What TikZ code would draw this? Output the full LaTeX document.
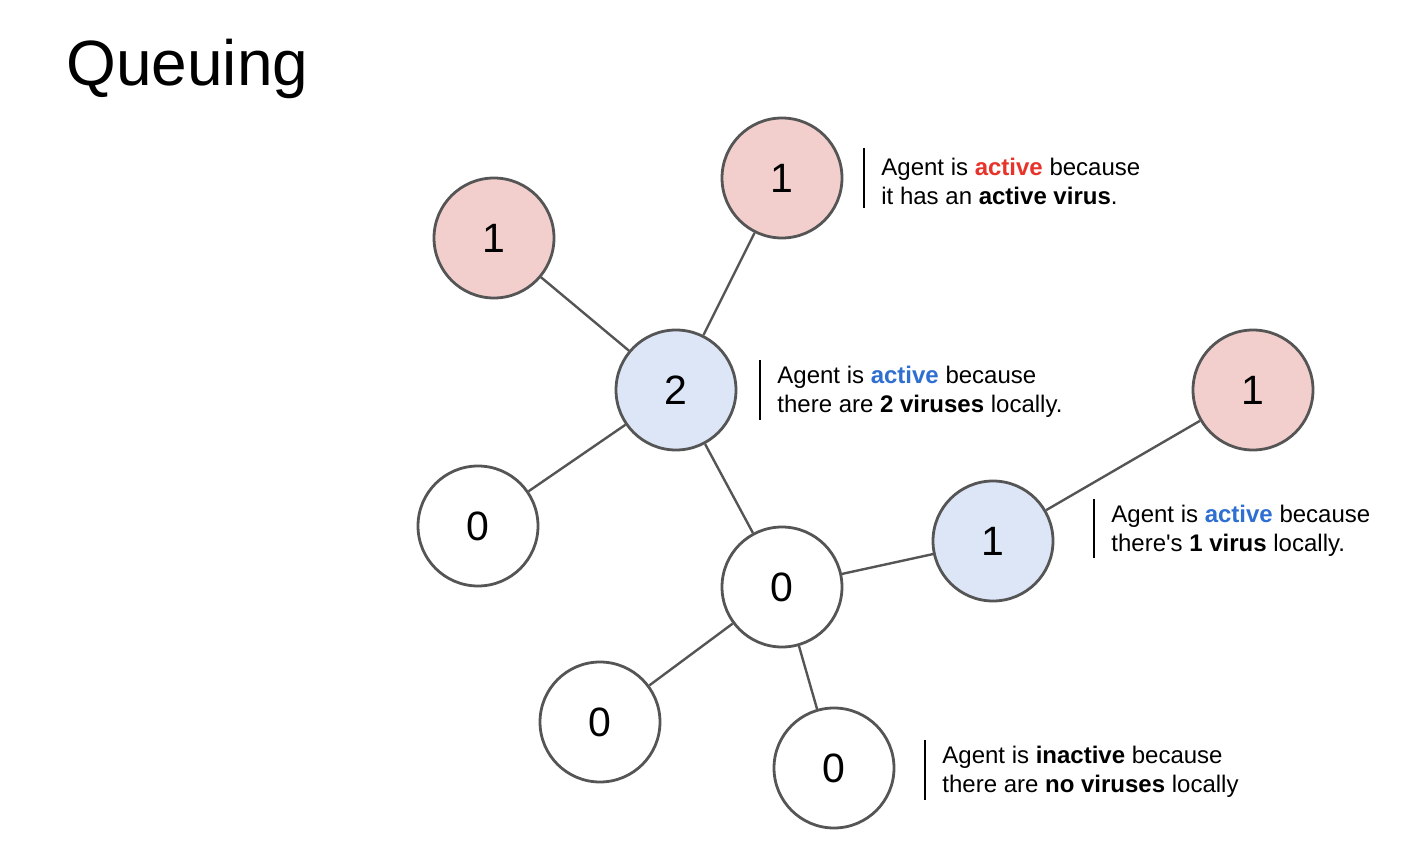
\documentclass[tikz,border=0pt]{standalone}
\usepackage{fontspec}
\setmainfont{Liberation Sans}
\definecolor{pinkf}{HTML}{F2CFCC}
\definecolor{bluef}{HTML}{DCE6F7}
\definecolor{edgec}{HTML}{555555}
\definecolor{redt}{HTML}{E8332A}
\definecolor{bluet}{HTML}{2E6FD1}
\begin{document}
\begin{tikzpicture}[x=0.5pt,y=-0.5pt,
  agent/.style={circle,draw=edgec,line width=1.4pt,minimum size=60pt,inner sep=0pt,font=\fontsize{20.5}{24}\selectfont},
  act/.style={agent,fill=pinkf},
  loc/.style={agent,fill=bluef},
  idle/.style={agent,fill=white},
  link/.style={draw=edgec,line width=1.2pt},
  note/.style={anchor=west,align=left,inner sep=0pt,font=\fontsize{12}{14.5}\selectfont},
  bar/.style={draw=black,line width=1.2pt}]
\useasboundingbox (0,0) rectangle (1418,860);
\node[anchor=base west,inner sep=0pt,font=\fontsize{32}{38}\selectfont] (title) at (66,86) {Queuing};
\node[act] (a) at (782,178) {1};
\node[act] (b) at (494,238) {1};
\node[loc] (c) at (676,390) {2};
\node[act] (d) at (1253,390) {1};
\node[idle] (e) at (478,526) {0};
\node[loc] (f) at (993,541) {1};
\node[idle] (g) at (782,587) {0};
\node[idle] (h) at (600,722) {0};
\node[idle] (i) at (834,768) {0};
\draw[link] (b) -- (c);
\draw[link] (a) -- (c);
\draw[link] (c) -- (e);
\draw[link] (c) -- (g);
\draw[link] (g) -- (f);
\draw[link] (f) -- (d);
\draw[link] (g) -- (h);
\draw[link] (g) -- (i);
\coordinate (b1t) at (864,148); \coordinate (b1b) at (864,208);
\draw[bar] (b1t) -- (b1b);
\node[note] (n1) at (881,181) {Agent is \textcolor{redt}{\bfseries active} because\\it has an \textbf{active virus}.};
\coordinate (b2t) at (760,360); \coordinate (b2b) at (760,420);
\draw[bar] (b2t) -- (b2b);
\node[note] (n2) at (777,392) {Agent is \textcolor{bluet}{\bfseries active} because\\there are \textbf{2 viruses} locally.};
\coordinate (b3t) at (1094,499); \coordinate (b3b) at (1094,558);
\draw[bar] (b3t) -- (b3b);
\node[note] (n3) at (1111,531) {Agent is \textcolor{bluet}{\bfseries active} because\\there\textquotesingle s \textbf{1 virus} locally.};
\coordinate (b4t) at (925,740); \coordinate (b4b) at (925,800);
\draw[bar] (b4t) -- (b4b);
\node[note] (n4) at (942,772) {Agent is \textbf{inactive} because\\there are \textbf{no viruses} locally};
\end{tikzpicture}
\end{document}
